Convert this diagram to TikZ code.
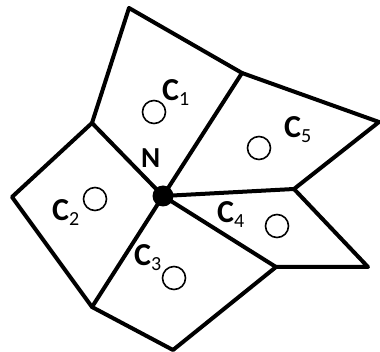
\documentclass[tikz,border=0pt]{standalone}
\usepackage{fontspec}
\setmainfont{Carlito}
\newcommand{\clab}[1]{{\fontsize{32}{32}\selectfont\bfseries C}\raisebox{-5pt}{\fontsize{20}{20}\selectfont #1}}
\begin{document}
\begin{tikzpicture}[x=1pt,y=-1pt,
  edge/.style={line width=4pt,line join=round,line cap=round},
  site/.style={circle,draw,line width=1.6pt,minimum size=23pt,inner sep=0pt},
  lab/.style={anchor=base west,inner sep=0pt}]
\useasboundingbox (0,0) rectangle (380,352);
\coordinate (N) at (163,196);
\coordinate (T) at (129,8);
\coordinate (A) at (242,73);
\coordinate (R) at (379,122);
\coordinate (B) at (294,189);
\coordinate (RB) at (368,267);
\coordinate (D) at (276,267);
\coordinate (Bt) at (173,350);
\coordinate (E) at (92,307);
\coordinate (L) at (12,197);
\coordinate (F) at (92,123);
\draw[edge] (T) -- (A) -- (R) -- (B) -- (RB) -- (D) -- (Bt) -- (E) -- (L) -- (F) -- cycle;
\draw[edge] (N) -- (F);
\draw[edge] (N) -- (A);
\draw[edge] (N) -- (B);
\draw[edge] (N) -- (D);
\draw[edge] (N) -- (E);
\fill (N) circle (10.5pt);
\node[site] (s1) at (154,112) {};
\node[site] (s5) at (259,148) {};
\node[site] (s2) at (95,199) {};
\node[site] (s4) at (277,226) {};
\node[site] (s3) at (174,278) {};
\node[lab] (c1) at (162,101) {\clab{1}};
\node[lab] (c5) at (284,138) {\clab{5}};
\node[lab] (c2) at (52,221) {\clab{2}};
\node[lab] (c4) at (217,223) {\clab{4}};
\node[lab] (c3) at (134,266) {\clab{3}};
\node[lab] (n) at (141,168) {\fontsize{29}{29}\selectfont\bfseries N};
\end{tikzpicture}
\end{document}
